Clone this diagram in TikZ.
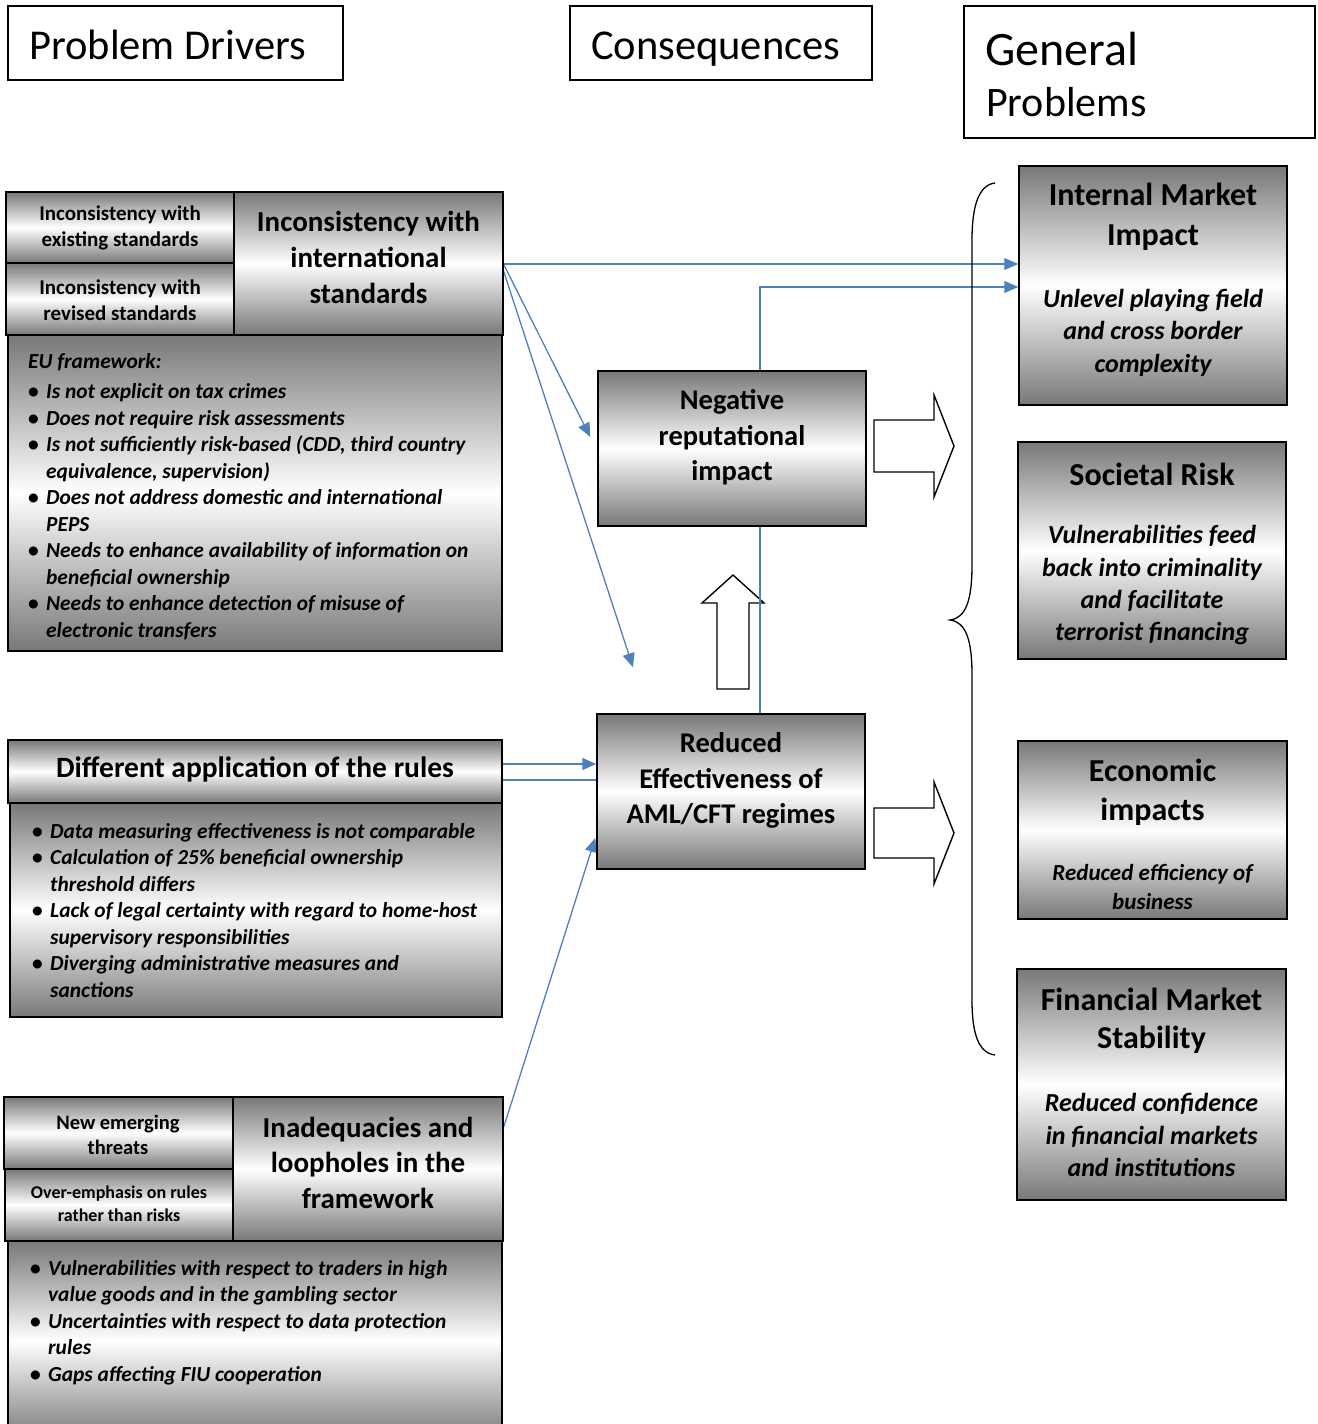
\documentclass[tikz,border=0pt]{standalone}
\usepackage{fontspec}
\setmainfont{Carlito}
\usetikzlibrary{arrows.meta,backgrounds,calc}
\definecolor{gedge}{HTML}{787878}
\definecolor{lblue}{HTML}{4F81BD}
\newcommand\fsz[2]{\fontsize{#1}{#2}\selectfont}
\newcommand\bul[1]{\par\hangindent=18pt\hangafter=1\noindent\makebox[18pt][l]{\upshape\textbullet}#1}
\newenvironment{blk}{\begin{minipage}[t]{480pt}\raggedright\let\\\newline\parindent=0pt\bfseries\itshape\fsz{21.4}{26.5}}{\end{minipage}}
\tikzset{
  gbox/.style={draw, line width=1.5pt, top color=gedge, bottom color=gedge, middle color=white, inner sep=0pt},
  hbox/.style={draw, line width=1.3pt, fill=white, inner sep=0pt},
  ttl/.style={inner sep=0pt, align=center, font=\bfseries},
  sub/.style={inner sep=0pt, align=center, font=\bfseries\itshape},
  blist/.style={inner sep=0pt, anchor=north west},
  barrow/.style={draw, line width=1.4pt, fill=white, line join=miter},
  arr/.style={lblue, line width=1.3pt, -{Triangle[length=14pt,width=12pt]}},
  bl/.style={lblue, line width=1.3pt},
  brace/.style={draw, line width=1.3pt}
}
\begin{document}
\begin{tikzpicture}[x=1pt,y=-1pt]
\useasboundingbox (0,0) rectangle (1317,1424);
% headers
\node[hbox, minimum width=335pt, minimum height=74pt] (hPD) at (175.5,43) {};
\node[anchor=base west, inner sep=0pt, font=\fsz{42.5}{50}] (tPD) at (29,59) {Problem Drivers};
\node[hbox, minimum width=302pt, minimum height=74pt] (hCo) at (721,43) {};
\node[anchor=base west, inner sep=0pt, font=\fsz{42.5}{50}] (tCo) at (591,59) {Consequences};
\node[hbox, minimum width=351pt, minimum height=132pt] (hGe) at (1139.5,72) {};
\node[anchor=base west, inner sep=0pt, font=\fsz{48}{54}] (tGe1) at (985,65) {General};
\node[anchor=base west, inner sep=0pt, font=\fsz{42}{50}] (tGe2) at (986,116) {Problems};

% top-left group
\node[gbox, minimum width=228pt, minimum height=71pt] (s1) at (120,227.5) {};
\node[gbox, minimum width=228pt, minimum height=72pt] (s2) at (120,299) {};
\node[gbox, minimum width=269pt, minimum height=143pt] (big1) at (368.5,263.5) {};
\node[gbox, minimum width=494pt, minimum height=316pt] (eu) at (255,493) {};
\node[ttl, font=\bfseries\fsz{21}{26}] (s1t) at (120,228) {Inconsistency with\\existing standards};
\node[ttl, font=\bfseries\fsz{21}{26}] (s2t) at (120,300) {Inconsistency with\\revised standards};
\node[ttl, font=\bfseries\fsz{29}{36}] (big1t) at (368.5,257) {Inconsistency with\\international\\standards};
\node[blist] (eut) at (28,353) {\begin{blk}EU framework:\par\vspace{4pt}%
\bul{Is not explicit on tax crimes}%
\bul{Does not require risk assessments}%
\bul{Is not sufficiently risk-based (CDD, third country\\equivalence, supervision)}%
\bul{Does not address domestic and international\\PEPS}%
\bul{Needs to enhance availability of information on\\beneficial ownership}%
\bul{Needs to enhance detection of misuse of\\electronic transfers}\end{blk}};

% middle-left group
\node[gbox, minimum width=494pt, minimum height=63pt] (dif) at (255,771.5) {};
\node[gbox, minimum width=492pt, minimum height=214pt] (difb) at (256,910) {};
\node[ttl, font=\bfseries\fsz{29.5}{36}] (dift) at (255,769) {Different application of the rules};
\node[blist] (difl) at (32,823) {\begin{blk}%
\bul{Data measuring effectiveness is not comparable}%
\bul{Calculation of 25\% beneficial ownership\\threshold differs}%
\bul{Lack of legal certainty with regard to home-host\\supervisory responsibilities}%
\bul{Diverging administrative measures and\\sanctions}\end{blk}};

% bottom-left group
\node[gbox, minimum width=229pt, minimum height=72pt] (n1) at (118.5,1133) {};
\node[gbox, minimum width=228pt, minimum height=72pt] (n2) at (119,1205) {};
\node[gbox, minimum width=270pt, minimum height=144pt] (big3) at (368,1169) {};
\node[gbox, minimum width=494pt, minimum height=200pt] (inb) at (255,1341) {};
\node[ttl, font=\bfseries\fsz{20.5}{25}] (n1t) at (118,1134.5) {New emerging\\threats};
\node[ttl, font=\bfseries\fsz{18}{23}] (n2t) at (119,1203.5) {Over-emphasis on rules\\rather than risks};
\node[ttl, font=\bfseries\fsz{29}{35.5}] (big3t) at (368,1162.5) {Inadequacies and\\loopholes in the\\framework};
\node[blist] (inbl) at (30,1260) {\begin{blk}%
\bul{Vulnerabilities with respect to traders in high\\value goods and in the gambling sector}%
\bul{Uncertainties with respect to data protection\\rules}%
\bul{Gaps affecting FIU cooperation}\end{blk}};

% consequences
\node[gbox, minimum width=268pt, minimum height=155pt] (neg) at (732,448.5) {};
\node[ttl, font=\bfseries\fsz{28.5}{35.5}] (negt) at (732,437.5) {Negative\\reputational\\impact};
\node[gbox, minimum width=268pt, minimum height=155pt] (red) at (731,791.5) {};
\node[ttl, font=\bfseries\fsz{28.5}{35.5}] (redt) at (731,780.5) {Reduced\\Effectiveness of\\AML/CFT regimes};

% general problems
\node[gbox, minimum width=268pt, minimum height=239pt] (imi) at (1153,285.5) {};
\node[ttl, font=\bfseries\fsz{32}{40}] (imiT) at (1153,217) {Internal Market\\Impact};
\node[sub, font=\bfseries\itshape\fsz{26}{32.5}] (imiS) at (1153,332.5) {Unlevel playing field\\and cross border\\complexity};
\node[gbox, minimum width=268pt, minimum height=217pt] (soc) at (1152,550.5) {};
\node[ttl, font=\bfseries\fsz{32}{40}] (socT) at (1152,474) {Societal Risk};
\node[sub, font=\bfseries\itshape\fsz{26}{32.3}] (socS) at (1152,585.5) {Vulnerabilities feed\\back into criminality\\and facilitate\\terrorist financing};
\node[gbox, minimum width=269pt, minimum height=178pt] (eco) at (1152.5,830) {};
\node[ttl, font=\bfseries\fsz{32}{39}] (ecoT) at (1152.5,792.5) {Economic\\impacts};
\node[sub, font=\bfseries\itshape\fsz{23}{29}] (ecoS) at (1152.5,887) {Reduced efficiency of\\business};
\node[gbox, minimum width=269pt, minimum height=231pt] (fin) at (1151.5,1084.5) {};
\node[ttl, font=\bfseries\fsz{32}{38}] (finT) at (1151.5,1021) {Financial Market\\Stability};
\node[sub, font=\bfseries\itshape\fsz{26}{32.5}] (finS) at (1151.5,1135) {Reduced confidence\\in financial markets\\and institutions};

% brace
\path[brace] (995,183) .. controls (979,185) and (972,205) .. (972,240) -- (972,565)
  .. controls (972,600) and (966,618) .. (950,620)
  .. controls (966,622) and (972,640) .. (972,675) -- (972,1000)
  .. controls (972,1035) and (979,1053) .. (995,1055);

\begin{scope}[on background layer]
% block arrows
\path[barrow] (874,420) -- (934,420) -- (934,395) -- (954,446) -- (934,497) -- (934,472) -- (874,472) -- cycle;
\path[barrow] (874,808) -- (934,808) -- (934,782) -- (954,833) -- (934,884) -- (934,858) -- (874,858) -- cycle;
\path[barrow] (717,689) -- (717,603) -- (702,603) -- (733,575) -- (764,603) -- (749,603) -- (749,689) -- cycle;
% connectors
\draw[arr] ([yshift=-0.5pt]big1.east) -- ([yshift=-0.5pt]big1.east -| imi.west);
\draw[arr] ([xshift=29pt]red.north) |- ([yshift=-1.5pt]imi.west);
\draw[arr] ([yshift=-1pt]big1.east) -- ([xshift=-7pt,yshift=11.5pt]neg.west);
\draw[arr] ([yshift=-8pt]big1.east) -- ([xshift=-98pt,yshift=46pt]red.north);
\draw[arr] ([yshift=7.5pt]dif.east) -- ([yshift=7.5pt]dif.east -| red.west);
\draw[bl] ([yshift=-8.5pt]dif.east) -- ([yshift=-8.5pt]dif.east -| red.west);
\draw[arr] ([yshift=42pt]big3.east) -- ([xshift=-1pt,yshift=-46.5pt]red.west);
\end{scope}
\end{tikzpicture}
\end{document}
